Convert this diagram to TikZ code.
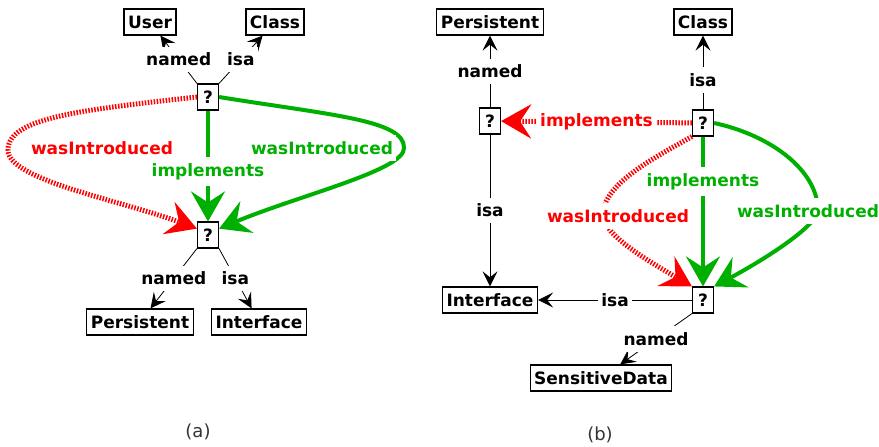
\documentclass[tikz,border=0pt]{standalone}
\usepackage{fontspec}
\setmainfont{DejaVu Sans}
\usepackage{xcolor}
\usepackage{tikz}
\usetikzlibrary{arrows.meta,positioning,calc}

\definecolor{relred}{RGB}{255,0,0}
\definecolor{relgreen}{RGB}{0,176,0}

\begin{document}
\begin{tikzpicture}[x=1pt, y=-1pt,
    concept/.style={draw, line width=1.3pt, font=\fontsize{17}{19}\selectfont\bfseries, inner xsep=4pt, minimum height=26pt},
    query/.style={draw, line width=1.1pt, font=\fontsize{17}{19}\selectfont\bfseries, inner sep=0pt, minimum width=21pt, minimum height=26pt},
    rel/.style={line width=0.8pt, -{Stealth[length=15pt, width=15pt, inset=6pt]}},
    lbl/.style={fill=white, font=\fontsize{17}{19}\selectfont\bfseries, inner xsep=3pt, inner ysep=6pt},
    rlbl/.style={lbl, text=relred},
    glbl/.style={lbl, text=relgreen},
    bigtip/.style={-{Stealth[length=30pt, width=34pt, inset=11pt]}},
    grnrel/.style={draw=relgreen, line width=4pt, bigtip},
    redrel/.style={draw=relred, line width=5pt, dash pattern=on 1.5pt off 1.5pt, bigtip},
    caption/.style={font=\fontsize{18}{20}\selectfont, text=black!80}
]
    \useasboundingbox (0,0) rectangle (879,447);

    % (a) nodes
    \node[concept] (user) at (150,22) {User};
    \node[concept] (classA) at (275,22) {Class};
    \node[query] (qa1) at (208,97) {?};
    \node[query] (qa2) at (208,235) {?};
    \node[concept] (persistA) at (140,322) {Persistent};
    \node[concept] (ifaceA) at (259,322) {Interface};
    \node[caption] (capA) at (198,432) {(a)};

    % (a) black relations
    \draw[rel] (qa1.north west) -- node[lbl] {named} (user);
    \draw[rel] (qa1.north east) -- node[lbl] {isa} (classA);
    \draw[rel] (qa2.south west) -- node[lbl] {named} (persistA);
    \draw[rel] (qa2.south east) -- node[lbl] {isa} (ifaceA);

    % (a) coloured relations
    \coordinate (bendAr) at (8,150);
    \coordinate (bendAg) at (404,148);
    \draw[redrel] (qa1.west) .. controls (80,110) and (8,118) .. (bendAr)
        .. controls (8,180) and (120,200) .. (qa2.150);
    \draw[grnrel] (qa1.east) .. controls (330,115) and (405,120) .. (bendAg)
        .. controls (405,170) and (300,195) .. (qa2.30);
    \draw[grnrel] (qa1.south) -- node[glbl, pos=0.55] {implements} (qa2.north);
    \node[rlbl] (wiRedA) at (102,148) {wasIntroduced};
    \node[glbl] (wiGrnA) at (322,148) {wasIntroduced};

    % (b) nodes
    \node[concept] (persistB) at (490,22) {Persistent};
    \node[concept] (classB) at (703,22) {Class};
    \node[query] (qb1) at (490,121) {?};
    \node[query] (qb2) at (703,123) {?};
    \node[query] (qb3) at (703,300) {?};
    \node[concept] (ifaceB) at (490,300) {Interface};
    \node[concept] (sensitive) at (601,378) {SensitiveData};
    \node[caption] (capB) at (600,435) {(b)};

    % (b) black relations
    \draw[rel] (qb1) -- node[lbl] {named} (persistB);
    \draw[rel] (qb1) -- node[lbl] {isa} (ifaceB);
    \draw[rel] (qb2) -- node[lbl, pos=0.4] {isa} (classB);
    \draw[rel] (qb3) -- node[lbl] {isa} (ifaceB);
    \draw[rel] (qb3.south west) -- node[lbl] {named} (sensitive);

    % (b) coloured relations
    \coordinate (bendBr) at (603,215);
    \coordinate (bendBg) at (818,211);
    \draw[redrel] (qb2) -- node[rlbl] {implements} (qb1);
    \draw[redrel] (qb2.south west) .. controls (650,160) and (603,185) .. (bendBr)
        .. controls (603,235) and (650,262) .. (qb3.north west);
    \draw[grnrel] (qb2.east) .. controls (770,135) and (818,170) .. (bendBg)
        .. controls (815,228) and (760,262) .. (qb3.north east);
    \draw[grnrel] (qb2.south) -- node[glbl, pos=0.3] {implements} (qb3.north);
    \node[rlbl] (wiRedB) at (618,216) {wasIntroduced};
    \node[glbl] (wiGrnB) at (808,211) {wasIntroduced};
\end{tikzpicture}
\end{document}
